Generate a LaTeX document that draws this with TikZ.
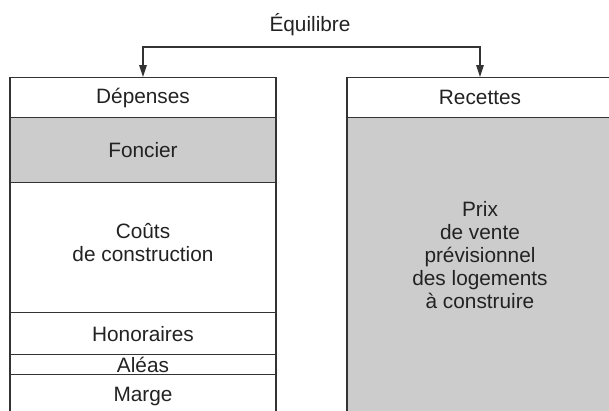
\documentclass[tikz,border=0pt]{standalone}
\usepackage{fontspec}
\setmainfont{Liberation Sans}
\usetikzlibrary{arrows.meta}
\definecolor{gr}{RGB}{204,204,204}
\definecolor{ln}{RGB}{51,51,51}
\definecolor{txt}{RGB}{34,34,34}
\begin{document}
\begin{tikzpicture}[x=1bp,y=-1bp,
  every node/.style={font=\fontsize{20.8bp}{23bp}\selectfont, text=txt, align=center},
  cell/.style={draw=ln, line width=1.2bp, rectangle, inner sep=0pt, minimum width=266bp, anchor=north},
  shade/.style={fill=gr},
  conn/.style={draw=ln, line width=1.2bp, -{Triangle[length=12bp,width=7.5bp]}}]
\useasboundingbox (0,0) rectangle (609,410);
\clip (0,0) rectangle (609,410);
% left column
\node[cell, minimum height=40bp] (dep) at (143,77) {Dépenses};
\node[cell, shade, minimum height=65bp] (fon) at (143,117) {Foncier};
\node[cell, minimum height=130bp] (cou) at (143,182) {};
\node (cout) at (143,243) {Coûts\\de construction};
\node[cell, minimum height=42bp] (hon) at (143,312) {Honoraires};
\node[cell, minimum height=20bp] (ale) at (143,354) {Aléas};
\node[cell, minimum height=44bp] (mar) at (143,374) {Marge};
% right column
\node[cell, minimum height=40bp] (rec) at (480,77) {Recettes};
\node[cell, shade, minimum height=300bp] (prix) at (480,117) {};
\node (prixt) at (480,255) {Prix\\de vente\\prévisionnel\\des logements\\à construire};
% top
\node (eq) at (310,25) {Équilibre};
\coordinate (split) at (310,47);
\draw[conn] (split) -| (dep.north);
\draw[conn] (split) -| (rec.north);
\end{tikzpicture}
\end{document}
